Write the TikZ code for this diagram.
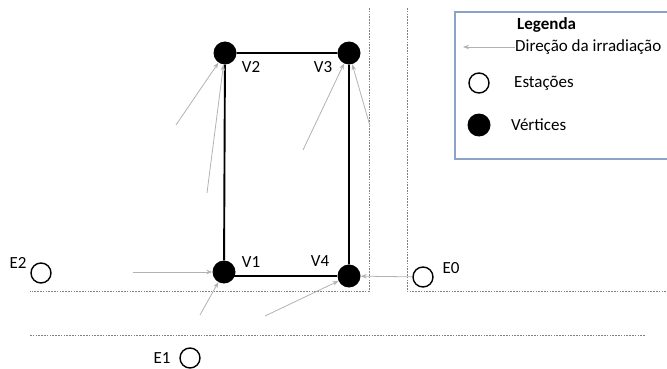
\documentclass[tikz,border=0pt]{standalone}
\usepackage{fontspec}
\setmainfont{Carlito}
\usetikzlibrary{arrows.meta}
\begin{document}
\begin{tikzpicture}[x=1pt,y=-1pt,
  vert/.style={circle,fill=black,minimum size=23pt,inner sep=0pt},
  stat/.style={circle,draw=black,line width=1.4pt,minimum size=20pt,inner sep=0pt},
  edge/.style={line width=1.9pt},
  ray/.style={draw=black!30,line width=0.8pt,-{Stealth[length=6pt,width=4.5pt]}},
  guide/.style={draw=black!50,dash pattern=on 1.6pt off 1.2pt,line width=1pt},
  lbl/.style={font=\fontsize{17}{19}\selectfont,inner sep=0pt},
  legbox/.style={draw={rgb,255:red,140;green,163;blue,200},line width=1.2pt}
]
\clip (0,0) rectangle (667,369);
% guide lines
\draw[guide] (369,8) -- (369,291) -- (30,291);
\draw[guide] (407,8) -- (407,291) -- (667,291);
\draw[guide] (30,335) -- (645,335);
% vertices
\node[vert] (v2) at (225,53) {};
\node[vert] (v3) at (349,53) {};
\node[vert] (v1) at (224,272) {};
\node[vert] (v4) at (349,276) {};
\draw[edge] (v1) -- (v2) -- (v3) -- (v4);
\draw[edge] (v1 |- v4) -- (v4);
\node[lbl] (l2) at (251,67) {V2};
\node[lbl] (l3) at (323,67) {V3};
\node[lbl] (l1) at (251,262) {V1};
\node[lbl] (l4) at (320,261) {V4};
% stations
\node[stat] (e2) at (41,273) {};
\node[stat] (e0) at (423,277) {};
\node[stat] (e1) at (190,358) {};
\node[lbl] (le2) at (18,263) {E2};
\node[lbl] (le0) at (451,268) {E0};
\node[lbl] (le1) at (162,358) {E1};
% rays
\coordinate (a1) at (176,125);
\coordinate (a2) at (207,193);
\coordinate (a3) at (303,150);
\coordinate (a4) at (370,126);
\coordinate (a5) at (133,272);
\coordinate (a6) at (200,315);
\coordinate (a7) at (265,316);
\draw[ray] (a1) -- (v2);
\draw[ray] (a2) -- (v2);
\draw[ray] (a3) -- (v3);
\draw[ray] (a4) -- (v3);
\draw[ray] (a5) -- (v1);
\draw[ray] (a6) -- (v1);
\draw[ray] (a7) -- (v4);
\draw[ray] (e0) -- (v4);
% legend
\draw[legbox] (455,12) rectangle (700,159);
\node[lbl,anchor=west,font=\fontsize{17}{19}\selectfont\bfseries] (lt) at (517,25) {Legenda};
\node[lbl,anchor=west] (ld) at (515,47) {Direção da irradiação};
\coordinate (lda) at (463,47);
\draw[ray] (ld.west) -- (lda);
\node[stat] (ls) at (479,83) {};
\node[lbl,anchor=west] (lst) at (514,83) {Estações};
\node[vert] (lv) at (479,125) {};
\node[lbl,anchor=west] (lvt) at (511,125) {Vértices};
\end{tikzpicture}
\end{document}
